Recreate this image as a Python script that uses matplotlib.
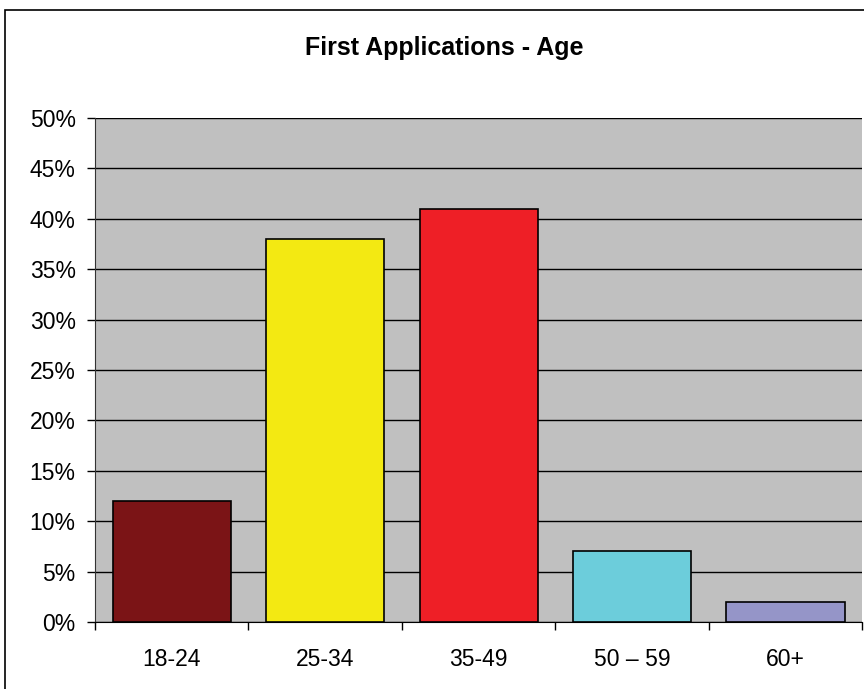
import matplotlib.pyplot as plt
from matplotlib.patches import Rectangle
from matplotlib.ticker import FuncFormatter, MultipleLocator

plt.rcParams['font.family'] = ['Liberation Sans', 'DejaVu Sans']

#DATA
categories = ["18-24", "25-34", "35-49", "50 \u2013 59", "60+"]
shares = [12, 38, 41, 7, 2]
colors = ["#7b1416", "#f3e912", "#ee1f26", "#6ccddb", "#9595c8"]

fig = plt.figure(figsize=(8.64, 6.89), dpi=100)
ax = fig.add_axes([0.110, 0.0972, 0.888, 0.7315])

# outer chart border
fig.patches.append(Rectangle((5 / 864, -0.05), 2, 1 - 10 / 689 + 0.05,
                             transform=fig.transFigure, fill=False,
                             edgecolor="black", linewidth=1.2))

ax.set_facecolor("#c0c0c0")
x = list(range(len(categories)))
ax.bar(x, shares, width=0.77, color=colors, edgecolor="black", linewidth=1.2, zorder=3)

ax.set_xlim(-0.5, len(categories) - 0.5)
ax.set_ylim(0, 50)
ax.yaxis.set_major_locator(MultipleLocator(5))
ax.yaxis.set_major_formatter(FuncFormatter(lambda v, p: f"{v:.0f}%"))
ax.grid(axis="y", color="black", linewidth=1, zorder=1)
ax.set_axisbelow(True)

ax.set_xticks([i - 0.5 for i in range(len(categories) + 1)], minor=False)
ax.set_xticklabels([])
ax.set_xticks(x, minor=True)
ax.set_xticklabels(categories, minor=True)
ax.tick_params(axis="x", which="minor", length=0, labelsize=16.5, pad=18.5)
ax.tick_params(axis="x", which="major", length=6, width=1, direction="out")
ax.tick_params(axis="y", length=6, width=1, direction="out", labelsize=16.5, pad=8)

for side in ["top", "right"]:
    ax.spines[side].set_visible(False)
ax.spines["left"].set_color("#333333")
ax.spines["bottom"].set_color("black")

fig.text(0.514, 1 - 48 / 689, "First Applications - Age", ha="center", va="center",
         fontsize=18, fontweight="bold")

fig.savefig("out.png", dpi=100)
